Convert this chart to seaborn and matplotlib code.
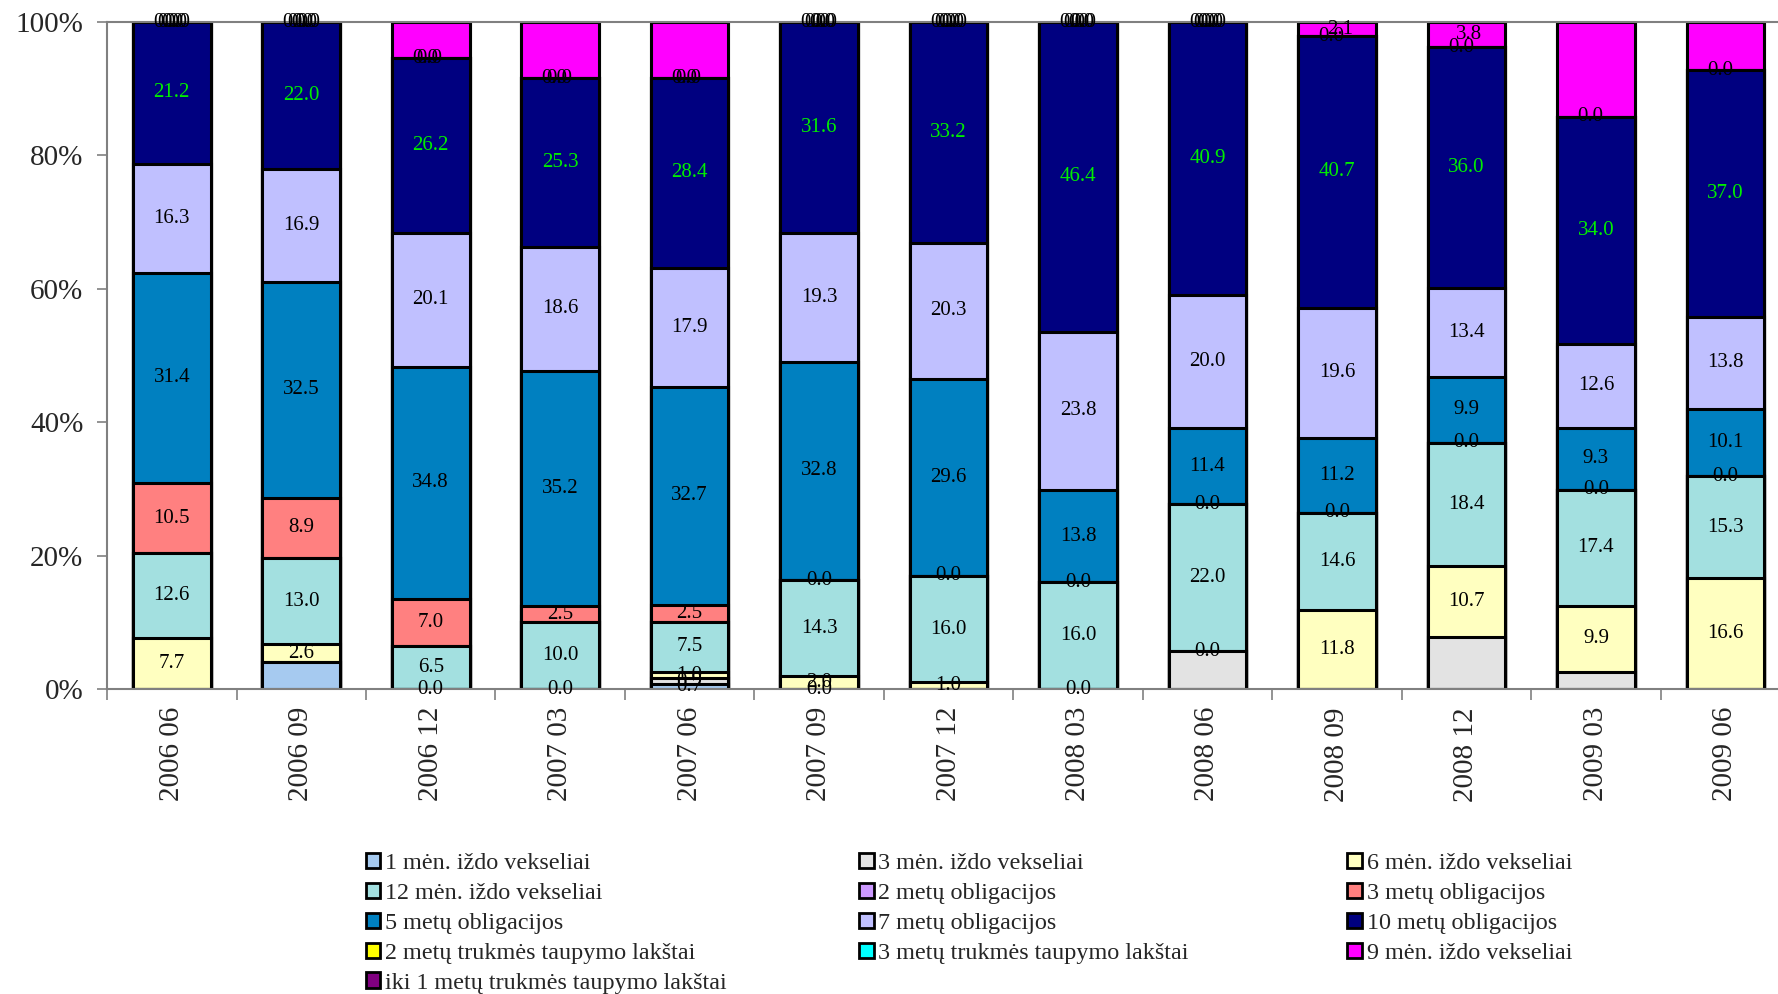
import numpy as np
import pandas as pd
import seaborn as sns
import matplotlib.pyplot as plt
from matplotlib.patches import Patch

# duomenys (reiksmes nuskaitytos nuo paveikslo)
nan = np.nan
periods = ["2006 06", "2006 09", "2006 12", "2007 03", "2007 06", "2007 09", "2007 12",
           "2008 03", "2008 06", "2008 09", "2008 12", "2009 03", "2009 06"]

men1 = [nan, 4.1, nan, nan, 0.7, nan, nan, nan, nan, nan, nan, nan, nan]
men3 = [nan, nan, 0.0, 0.0, 0.9, 0.0, nan, 0.0, 5.7, nan, 7.8, 2.6, nan]
men6 = [7.7, 2.6, nan, nan, 1.0, 2.0, 1.0, nan, 0.0, 11.8, 10.7, 9.9, 16.6]
men12 = [12.6, 13.0, 6.5, 10.0, 7.5, 14.3, 16.0, 16.0, 22.0, 14.6, 18.4, 17.4, 15.3]
met2 = [nan] * 13
met3 = [10.5, 8.9, 7.0, 2.5, 2.5, 0.0, 0.0, 0.0, 0.0, 0.0, 0.0, 0.0, 0.0]
met5 = [31.4, 32.5, 34.8, 35.2, 32.7, 32.8, 29.6, 13.8, 11.4, 11.2, 9.9, 9.3, 10.1]
met7 = [16.3, 16.9, 20.1, 18.6, 17.9, 19.3, 20.3, 23.8, 20.0, 19.6, 13.4, 12.6, 13.8]
met10 = [21.2, 22.0, 26.2, 25.3, 28.4, 31.6, 33.2, 46.4, 40.9, 40.7, 36.0, 34.0, 37.0]
taup2 = [0.0] * 13
taup3 = [0.0] * 9 + [nan] * 4
men9 = [0.0, 0.0, 5.4, 8.4, 8.4, 0.0, 0.0, 0.0, 0.0, 2.1, 3.8, 14.2, 7.2]
iki1 = [0.0, 0.0, nan, nan, nan, 0.0, 0.0, 0.0, 0.0, nan, nan, nan, nan]

names = ["1 mėn. iždo vekseliai", "3 mėn. iždo vekseliai", "6 mėn. iždo vekseliai",
         "12 mėn. iždo vekseliai", "2 metų obligacijos", "3 metų obligacijos",
         "5 metų obligacijos", "7 metų obligacijos", "10 metų obligacijos",
         "2 metų trukmės taupymo lakštai", "3 metų trukmės taupymo lakštai",
         "9 mėn. iždo vekseliai", "iki 1 metų trukmės taupymo lakštai"]
values = [men1, men3, men6, men12, met2, met3, met5, met7, met10, taup2, taup3, men9, iki1]
colors = ["#A6CAF0", "#E3E3E3", "#FFFFC0", "#A3E0E0", "#CC99FF", "#FF8080",
          "#0080C0", "#C0C0FF", "#000080", "#FFFF00", "#00FFFF", "#FF00FF", "#800080"]

# etiketes, kuriu paveiksle nesimato
hidden = {0: [1], 1: [8, 10, 11], 11: [2, 3, 4, 11, 12]}
# nedidelis poslinkis sutampancioms nulinems etiketems
xoff = {9: -4, 10: -1, 11: 2, 12: 4}

df = pd.DataFrame(dict(zip(names, values)), index=periods)
filled = df.fillna(0)
pct = filled.div(filled.sum(axis=1), axis=0) * 100
cum = pct.cumsum(axis=1)

sns.set_theme(style="white")
plt.rcParams['font.family'] = ['Liberation Serif', 'DejaVu Serif']

fig = plt.figure(figsize=(17.78, 9.94), dpi=100)
ax = fig.add_axes([0.0602, 0.3068, 0.9466, 0.6710])

# sukrauti stulpeliai: piesiam nuo virsaus i apacia
for i in reversed(range(len(names))):
    d = pd.DataFrame({"period": periods, "top": cum[names[i]].values})
    sns.barplot(data=d, x="period", y="top", color=colors[i], saturation=1,
                width=0.6, edgecolor="black", linewidth=2.2, errorbar=None, ax=ax)

for i, name in enumerate(names):
    for j in range(len(periods)):
        v = df[name].iloc[j]
        if np.isnan(v) or j in hidden.get(i, []):
            continue
        y = cum[name].iloc[j] - pct[name].iloc[j] / 2
        ax.annotate(f"{v:.1f}", (j, y), xytext=(xoff.get(i, 0), 0),
                    textcoords="offset points", ha="center", va="center",
                    fontsize=15, color="#00EE00" if i == 8 else "black",
                    annotation_clip=False)

ax.set_xlim(-0.5, 12.5)
ax.set_ylim(0, 100)
ax.set_xlabel("")
ax.set_ylabel("")
ax.set_yticks(range(0, 101, 20))
ax.set_yticklabels([f"{t}%" for t in range(0, 101, 20)], fontsize=21)
ax.set_xticks(range(len(periods)))
ax.set_xticklabels(periods, rotation=90, fontsize=21)
ax.set_xticks(np.arange(-0.5, 13, 1), minor=True)
ax.tick_params(axis="x", which="major", length=0, pad=13)
ax.tick_params(axis="x", which="minor", length=8, width=1.2, color="#808080", bottom=True, direction="out")
ax.tick_params(axis="y", length=7, width=1.2, color="#808080", left=True, direction="out", pad=10)
for s in ax.spines.values():
    s.set_color("#808080")
    s.set_linewidth(1.5)

handles = [Patch(facecolor=c, edgecolor="black", linewidth=2) for c in colors]
cols = [[0, 3, 6, 9, 12], [1, 4, 7, 10], [2, 5, 8, 11]]
xs = [0.2058, 0.4832, 0.7578]
for col, x in zip(cols, xs):
    fig.legend([handles[k] for k in col], [names[k] for k in col], loc="upper left",
               bbox_to_anchor=(x, 0.142), frameon=False, fontsize=17.4, borderpad=0,
               borderaxespad=0, handlelength=0.6, handleheight=0.6,
               handletextpad=0.2, labelspacing=0.36)

fig.savefig("out.png", dpi=100)
